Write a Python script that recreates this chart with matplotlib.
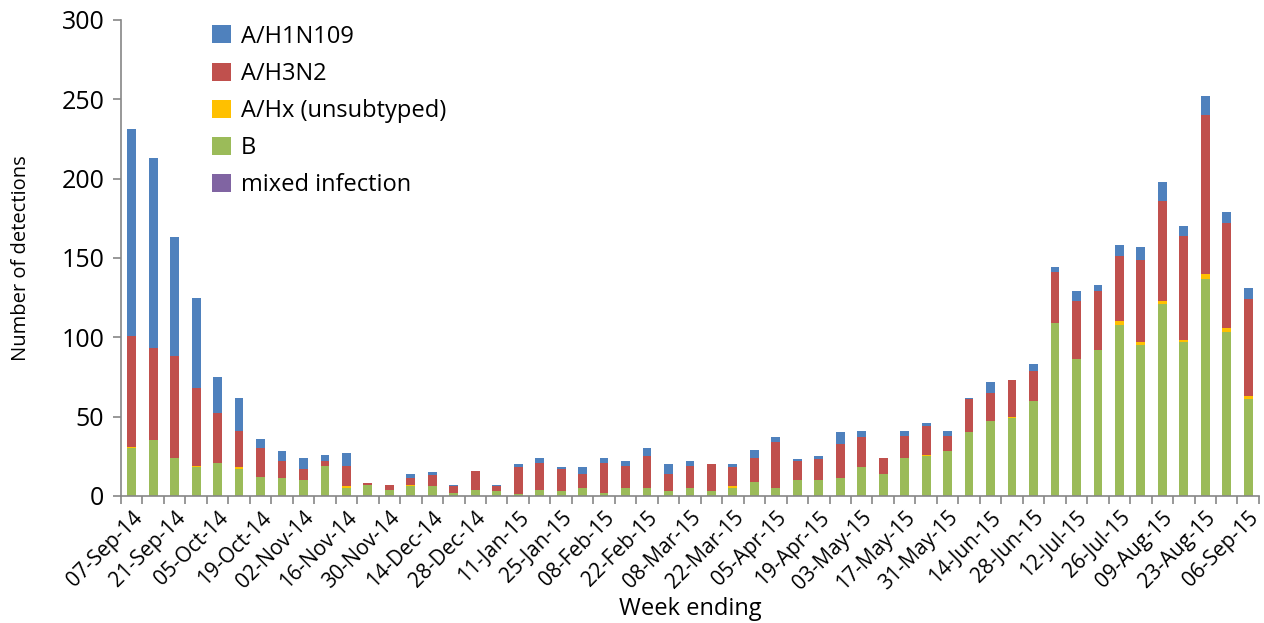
import numpy as np
import matplotlib
matplotlib.use('Agg')
import matplotlib.pyplot as plt

plt.rcParams['font.family'] = ['Open Sans', 'DejaVu Sans']

# === Data: weekly influenza detections by subtype ===
weeks = ['07-Sep-14', '14-Sep-14', '21-Sep-14', '28-Sep-14', '05-Oct-14', '12-Oct-14',
         '19-Oct-14', '26-Oct-14', '02-Nov-14', '09-Nov-14', '16-Nov-14', '23-Nov-14',
         '30-Nov-14', '07-Dec-14', '14-Dec-14', '21-Dec-14', '28-Dec-14', '04-Jan-15',
         '11-Jan-15', '18-Jan-15', '25-Jan-15', '01-Feb-15', '08-Feb-15', '15-Feb-15',
         '22-Feb-15', '01-Mar-15', '08-Mar-15', '15-Mar-15', '22-Mar-15', '29-Mar-15',
         '05-Apr-15', '12-Apr-15', '19-Apr-15', '26-Apr-15', '03-May-15', '10-May-15',
         '17-May-15', '24-May-15', '31-May-15', '07-Jun-15', '14-Jun-15', '21-Jun-15',
         '28-Jun-15', '05-Jul-15', '12-Jul-15', '19-Jul-15', '26-Jul-15', '02-Aug-15',
         '09-Aug-15', '16-Aug-15', '23-Aug-15', '30-Aug-15', '06-Sep-15']

b_vals = [30, 35, 24, 18, 21, 17, 12, 11, 10, 19,
          5, 7, 4, 6, 6, 2, 4, 3, 1, 4,
          3, 5, 2, 5, 5, 3, 5, 3, 5, 9,
          5, 10, 10, 11, 18, 14, 24, 25, 28, 40,
          47, 49, 60, 109, 86, 92, 108, 95, 121, 97,
          137, 103, 61]
hx_vals = [1, 0, 0, 1, 0, 1, 0, 0, 0, 0,
           1, 0, 0, 1, 0, 0, 0, 0, 0, 0,
           0, 0, 0, 0, 0, 0, 0, 0, 1, 0,
           0, 0, 0, 0, 0, 0, 0, 1, 0, 0,
           0, 1, 0, 0, 0, 0, 2, 2, 2, 1,
           3, 3, 2]
h3n2_vals = [70, 58, 64, 49, 31, 23, 18, 11, 7, 3,
             13, 1, 3, 4, 7, 4, 12, 3, 17, 17,
             14, 9, 19, 14, 20, 11, 14, 17, 12, 15,
             29, 12, 13, 22, 19, 10, 14, 18, 10, 21,
             18, 23, 19, 32, 37, 37, 41, 52, 63, 66,
             100, 66, 61]
h1n1_vals = [130, 120, 75, 57, 23, 21, 6, 6, 7, 4,
             8, 0, 0, 3, 2, 1, 0, 1, 2, 3,
             1, 4, 3, 3, 5, 6, 3, 0, 2, 5,
             3, 1, 2, 7, 4, 0, 3, 2, 3, 1,
             7, 0, 4, 3, 6, 4, 7, 8, 12, 6,
             12, 7, 7]
mixed_vals = [0] * 53

# stacking order bottom -> top
series = [
    ('B', b_vals, '#9BBB59'),
    ('A/Hx (unsubtyped)', hx_vals, '#FFC000'),
    ('A/H3N2', h3n2_vals, '#C0504D'),
    ('A/H1N109', h1n1_vals, '#4F81BD'),
    ('mixed infection', mixed_vals, '#8064A2'),
]
legend_order = ['A/H1N109', 'A/H3N2', 'A/Hx (unsubtyped)', 'B', 'mixed infection']

fig = plt.figure(figsize=(12.64, 6.23), dpi=100)
ax = fig.add_axes([0.0957, 0.204, 0.9003, 0.764])

x = np.arange(len(weeks))
bottom = np.zeros(len(weeks))
handles = {}
for name, vals, col in series:
    vals = np.array(vals, dtype=float)
    h = ax.bar(x, vals, 0.41, bottom=bottom, color=col, edgecolor='none', label=name)
    handles[name] = h
    bottom += vals

ax.set_xlim(-0.5, len(weeks) - 0.5)
ax.set_ylim(0, 300)
ax.set_yticks(np.arange(0, 301, 50))

# labels every other week, tick marks between categories
ax.set_xticks(x[::2])
ax.set_xticklabels(weeks[::2], rotation=45, ha='right', rotation_mode='anchor', fontsize=15)
ax.set_xticks(np.arange(-0.5, len(weeks), 1), minor=True)
ax.tick_params(axis='x', which='major', length=0, pad=8)
ax.tick_params(axis='x', which='minor', length=6, color='#868686', width=1.2)
ax.tick_params(axis='y', length=6, color='#868686', width=1.2, labelsize=18, pad=6)

for s in ['top', 'right']:
    ax.spines[s].set_visible(False)
for s in ['left', 'bottom']:
    ax.spines[s].set_color('#868686')
    ax.spines[s].set_linewidth(1.2)

ax.set_ylabel('Number of detections', fontsize=14.5, labelpad=22)
ax.set_xlabel('Week ending', fontsize=17, labelpad=2)

ax.legend([handles[n] for n in legend_order], legend_order, loc='upper left',
          bbox_to_anchor=(0.061, 1.035), frameon=False, fontsize=17,
          handlelength=0.8, handleheight=0.8, handletextpad=0.45, labelspacing=0.56)

plt.savefig('out.png', dpi=100)
